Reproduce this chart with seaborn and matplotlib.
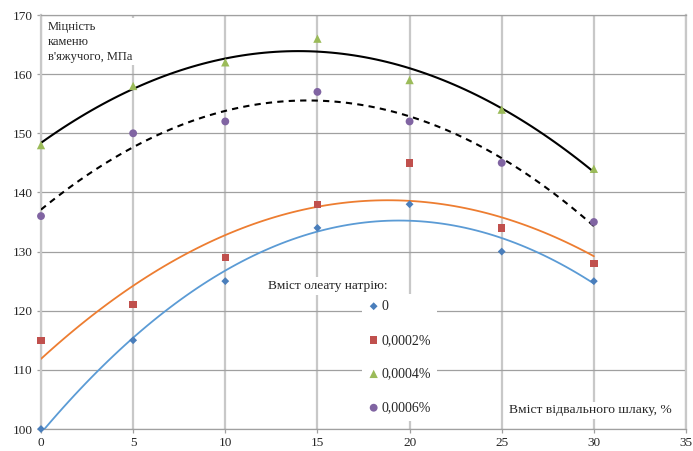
import numpy as np
import pandas as pd
import matplotlib
matplotlib.use("Agg")
import matplotlib.pyplot as plt
import seaborn as sns

# data
slag = [0, 5, 10, 15, 20, 25, 30]
s_0 = [100, 115, 125, 134, 138, 130, 125]
s_0002 = [115, 121, 129, 138, 145, 134, 128]
s_0004 = [148, 158, 162, 166, 159, 154, 144]
s_0006 = [136, 150, 152, 157, 152, 145, 135]
labels = ["0", "0,0002%", "0,0004%", "0,0006%"]

sns.set_style("white")
plt.rcParams["font.family"] = ["Liberation Serif", "DejaVu Serif"]

fig = plt.figure(figsize=(6.93, 4.51), dpi=100)
ax = fig.add_axes([41 / 693, 1 - 429 / 451, 645 / 693, 414 / 451])

series = [s_0, s_0002, s_0004, s_0006]
markers = ["D", "s", "^", "o"]
msizes = [16, 28, 36, 32]
mcolors = ["#4A7EBB", "#C0504D", "#9BBB59", "#8064A2"]
lcolors = ["#5B9BD5", "#ED7D31", "black", "black"]
lstyles = ["-", "-", "-", "--"]
lwidths = [1.3, 1.3, 1.5, 1.5]

for ys, mk, ms, mc, lc, ls, lw, lab in zip(series, markers, msizes, mcolors,
                                            lcolors, lstyles, lwidths, labels):
    df = pd.DataFrame({"x": slag, "y": ys})
    kw = dict(color=lc, lw=lw, ls=ls, zorder=3)
    if ls == "--":
        kw["dashes"] = (3, 2.5)
    sns.regplot(data=df, x="x", y="y", order=2, ci=None, scatter=False,
                ax=ax, line_kws=kw)
    sns.scatterplot(data=df, x="x", y="y", marker=mk, s=ms, color=mc,
                    edgecolor="none", ax=ax, label=lab, zorder=4, clip_on=False)

ax.set_xlim(0, 35)
ax.set_ylim(100, 170)
ax.set_xticks(range(0, 36, 5))
ax.set_yticks(range(100, 171, 10))
ax.set_xlabel("")
ax.set_ylabel("")
ax.tick_params(labelsize=9.5, length=3, width=0.9, color="#A0A0A0", pad=3,
               bottom=True, left=True)

ax.xaxis.grid(True, color="#C8C8C8", lw=1.6)
ax.yaxis.grid(True, color="#A0A0A0", lw=0.9)
ax.set_axisbelow(True)
for side in ["left", "right"]:
    ax.spines[side].set_color("#C8C8C8")
    ax.spines[side].set_linewidth(1.6)
for side in ["top", "bottom"]:
    ax.spines[side].set_color("#A0A0A0")
    ax.spines[side].set_linewidth(0.9)

box = dict(facecolor="white", edgecolor="none", pad=2)
ax.text(0.011, 0.985, "Міцність\nкаменю\nв'яжучого, МПа", transform=ax.transAxes,
        fontsize=9, va="top", ha="left", linespacing=1.3, bbox=box, zorder=5)
ax.text(0.978, 0.045, "Вміст відвального шлаку, %", transform=ax.transAxes,
        fontsize=9.7, va="center", ha="right", bbox=box, zorder=5)
ax.text(0.445, 0.345, "Вміст олеату натрію:", transform=ax.transAxes,
        fontsize=9.6, va="center", ha="center", bbox=box, zorder=5)

leg = ax.legend(loc="upper left", bbox_to_anchor=(0.498, 0.327), fontsize=10,
                frameon=True, facecolor="white", edgecolor="none", framealpha=1,
                labelspacing=1.5, handlelength=0.75, handletextpad=0.2,
                borderaxespad=0, borderpad=0.45, fancybox=False)
leg.set_zorder(5)

fig.savefig("out.png", dpi=100)
